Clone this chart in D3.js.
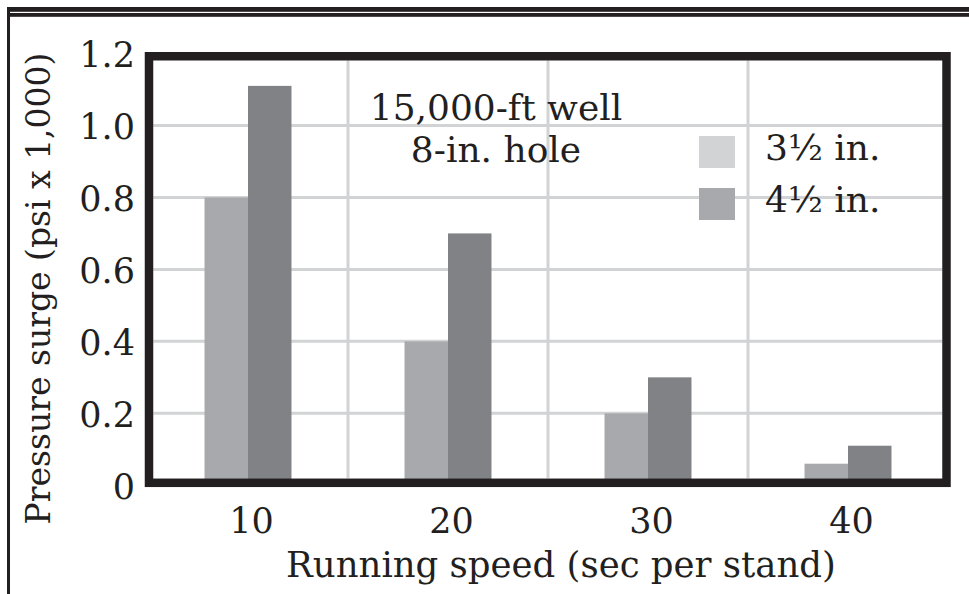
<!DOCTYPE html>
<html>
<head>
<meta charset="utf-8">
<script src="https://cdn.jsdelivr.net/npm/d3@7"></script>
<style>
  html, body { margin: 0; padding: 0; background: #fff; }
  svg { display: block; }
  text { font-family: "DejaVu Serif", serif; fill: #231f20; }
</style>
</head>
<body>
<svg id="chart" width="969" height="594"></svg>
<script>
// ---- data ----
const categories = [10, 20, 30, 40];
const seriesNames = ["3½ in.", "4½ in."];
const values35 = [0.80, 0.40, 0.20, 0.06];
const values45 = [1.11, 0.70, 0.30, 0.11];
const yTicks = [0, 0.2, 0.4, 0.6, 0.8, 1.0, 1.2];
const yTickLabels = ["0", "0.2", "0.4", "0.6", "0.8", "1.0", "1.2"];
const annotationLines = ["15,000-ft well", "8-in. hole"];
const xTitle = "Running speed (sec per stand)";
const yTitle = "Pressure surge (psi x 1,000)";

const barColors = ["#a7a9ac", "#808285"];
const legendColors = ["#d1d3d4", "#a7a9ac"];
const gridColor = "#d1d3d4";
const ink = "#231f20";

const svg = d3.select("#chart");
const W = 969, H = 594;

// scales
const x = d3.scaleBand().domain(categories).range([148, 948]).padding(0);
const xi = d3.scaleBand().domain(seriesNames).range([0, x.bandwidth()]).paddingInner(0).paddingOuter(1.3);
const y = d3.scaleLinear().domain([0, 1.2]).range([485.3, 53.5]);

// page border lines
svg.append("rect").attr("x", 7).attr("y", 7).attr("width", W - 7).attr("height", 4.8).attr("fill", ink);
svg.append("rect").attr("x", 7).attr("y", 13).attr("width", W - 7).attr("height", 3.8).attr("fill", ink);
svg.append("rect").attr("x", 7).attr("y", 7).attr("width", 3).attr("height", H - 7).attr("fill", ink);

// frame geometry
const fw = 8.5;
const fL = x.range()[0] + 1, fR = x.range()[1] - 1.5;
const fT = y(1.2) + 2.75, fB = y(0) - 2.5;
const inL = fL + fw / 2, inR = fR - fw / 2, inT = fT + fw / 2, inB = fB - fw / 2;

// gridlines
const grid = svg.append("g");
grid.selectAll("line.h").data(yTicks.filter(v => v > 0 && v < 1.2)).join("line")
  .attr("x1", inL).attr("x2", inR)
  .attr("y1", d => y(d)).attr("y2", d => y(d))
  .attr("stroke", gridColor).attr("stroke-width", 3);
grid.selectAll("line.v").data(categories.slice(1)).join("line")
  .attr("x1", d => x(d)).attr("x2", d => x(d))
  .attr("y1", inT).attr("y2", inB)
  .attr("stroke", gridColor).attr("stroke-width", 3);

// bars
const rows = categories.map((c, i) => ({ c, vals: [values35[i], values45[i]] }));
const groups = svg.append("g").selectAll("g").data(rows).join("g")
  .attr("transform", d => `translate(${x(d.c)},0)`);
groups.selectAll("rect").data(d => d.vals.map((v, j) => ({ v, s: seriesNames[j], j })))
  .join("rect")
  .attr("x", d => xi(d.s))
  .attr("width", xi.bandwidth())
  .attr("y", d => y(d.v))
  .attr("height", d => y(0) - y(d.v))
  .attr("fill", d => barColors[d.j]);

// frame
svg.append("rect")
  .attr("x", fL).attr("y", fT).attr("width", fR - fL).attr("height", fB - fT)
  .attr("fill", "none").attr("stroke", ink).attr("stroke-width", fw);

// y axis
const yAxis = d3.axisLeft(y).tickValues(yTicks)
  .tickFormat((d, i) => yTickLabels[i]).tickSize(0).tickPadding(0);
const gy = svg.append("g").attr("transform", "translate(135,0)").call(yAxis);
gy.select(".domain").remove();
gy.selectAll("text").attr("dy", "0.37em")
  .style("font-family", '"DejaVu Serif", serif').style("font-size", "35px").attr("fill", ink);

// x axis
const xAxis = d3.axisBottom(x).tickSize(0).tickPadding(23);
const gx = svg.append("g").attr("transform", `translate(0,${y(0)})`).call(xAxis);
gx.select(".domain").remove();
gx.selectAll("text").attr("dx", "0.1em")
  .style("font-family", '"DejaVu Serif", serif').style("font-size", "35px").attr("fill", ink);

// axis titles
svg.append("text").attr("x", 561).attr("y", 577).attr("text-anchor", "middle")
  .style("font-size", "35.5px").text(xTitle);
svg.append("text").attr("transform", "translate(50,288.5) rotate(-90)")
  .attr("text-anchor", "middle").style("font-size", "33px").text(yTitle);

// annotation
svg.append("g").selectAll("text").data(annotationLines).join("text")
  .attr("x", 496).attr("y", (d, i) => 120 + i * 42)
  .attr("text-anchor", "middle").style("font-size", "36px").text(d => d);

// legend
const lg = svg.append("g").selectAll("g").data(seriesNames).join("g")
  .attr("transform", (d, i) => `translate(699,${136 + i * 52})`);
lg.append("rect").attr("width", 36).attr("height", 32).attr("fill", (d, i) => legendColors[i]);
lg.append("text").attr("x", 66).attr("y", 24).style("font-size", "36px").text(d => d);
</script>
</body>
</html>
